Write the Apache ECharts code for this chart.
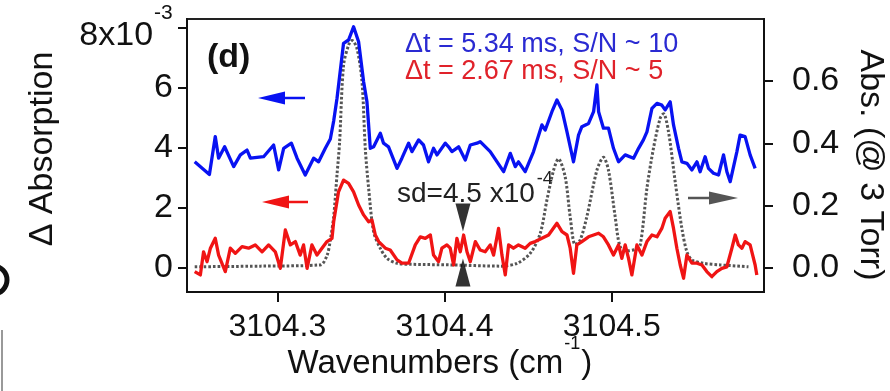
<!DOCTYPE html>
<html><head><meta charset="utf-8">
<script src="https://cdn.jsdelivr.net/npm/echarts@6/dist/echarts.min.js"></script>
<style>html,body{margin:0;padding:0;background:#fff}#c{width:890px;height:391px}</style>
</head><body><div id="c"></div>
<script>
// Δt = 5.34 ms trace (left axis, Δ absorption in units of 1e-3)
const blueWavenumber = [3104.2506,3104.2594,3104.2629,3104.2649,3104.2685,3104.2739,3104.2779,3104.2819,3104.2839,3104.2918,3104.2978,3104.3008,3104.3038,3104.3084,3104.3118,3104.3167,3104.3217,3104.3247,3104.3287,3104.3317,3104.3337,3104.3357,3104.3396,3104.3426,3104.3456,3104.3486,3104.3516,3104.3536,3104.3556,3104.3576,3104.3616,3104.3635,3104.3665,3104.3716,3104.3745,3104.3785,3104.3805,3104.3845,3104.3874,3104.3904,3104.3934,3104.3955,3104.4004,3104.4024,3104.4044,3104.4084,3104.4124,3104.4154,3104.4194,3104.4213,3104.4273,3104.4353,3104.4393,3104.4423,3104.4442,3104.4482,3104.4532,3104.4582,3104.4602,3104.4642,3104.4672,3104.4702,3104.4732,3104.4771,3104.4801,3104.4821,3104.4861,3104.4891,3104.4911,3104.4921,3104.4950,3104.4980,3104.5010,3104.5040,3104.5080,3104.5130,3104.5160,3104.5189,3104.5210,3104.5240,3104.5270,3104.5299,3104.5319,3104.5349,3104.5369,3104.5399,3104.5419,3104.5449,3104.5479,3104.5509,3104.5528,3104.5558,3104.5578,3104.5608,3104.5638,3104.5668,3104.5688,3104.5708,3104.5748,3104.5767,3104.5797,3104.5827,3104.5857];
const blueDeltaAbs = [3.54,3.12,4.38,3.66,4.04,3.38,3.77,3.93,3.66,3.71,4.10,3.27,3.99,4.16,3.66,3.10,3.66,3.54,3.99,4.30,4.90,5.66,7.49,7.60,8.04,7.54,6.21,5.54,3.99,4.04,4.49,4.16,4.04,3.32,3.66,4.16,3.88,4.27,4.10,3.54,3.99,3.77,4.16,4.04,3.88,4.04,3.60,4.10,4.16,4.21,3.88,3.21,3.82,3.38,3.54,3.21,3.88,4.77,4.60,5.21,5.60,5.27,4.54,3.54,4.43,4.71,4.82,5.21,6.10,5.21,4.66,4.66,3.99,3.54,3.77,3.66,3.99,4.27,4.54,5.32,5.49,5.43,5.27,5.54,4.77,3.99,3.54,3.49,3.27,3.54,3.21,3.71,3.32,3.16,3.10,3.77,3.21,2.88,3.88,4.43,4.38,3.77,3.32];

// Δt = 2.67 ms trace (left axis, units of 1e-3)
const redWavenumber = [3104.2506,3104.2540,3104.2559,3104.2580,3104.2600,3104.2629,3104.2649,3104.2689,3104.2719,3104.2749,3104.2789,3104.2828,3104.2868,3104.2909,3104.2948,3104.2988,3104.3018,3104.3048,3104.3078,3104.3108,3104.3137,3104.3157,3104.3178,3104.3207,3104.3237,3104.3267,3104.3297,3104.3327,3104.3337,3104.3366,3104.3396,3104.3426,3104.3456,3104.3486,3104.3516,3104.3546,3104.3566,3104.3586,3104.3606,3104.3626,3104.3646,3104.3675,3104.3716,3104.3745,3104.3785,3104.3825,3104.3855,3104.3885,3104.3915,3104.3934,3104.3964,3104.3984,3104.4014,3104.4034,3104.4054,3104.4074,3104.4094,3104.4114,3104.4134,3104.4154,3104.4184,3104.4213,3104.4243,3104.4273,3104.4293,3104.4323,3104.4343,3104.4363,3104.4383,3104.4412,3104.4442,3104.4482,3104.4512,3104.4542,3104.4582,3104.4622,3104.4672,3104.4702,3104.4732,3104.4751,3104.4771,3104.4791,3104.4821,3104.4861,3104.4891,3104.4921,3104.4950,3104.4980,3104.5010,3104.5040,3104.5060,3104.5080,3104.5100,3104.5120,3104.5150,3104.5180,3104.5210,3104.5240,3104.5270,3104.5299,3104.5319,3104.5349,3104.5369,3104.5389,3104.5409,3104.5429,3104.5449,3104.5479,3104.5509,3104.5539,3104.5568,3104.5598,3104.5628,3104.5658,3104.5688,3104.5718,3104.5738,3104.5757,3104.5778,3104.5797,3104.5827,3104.5857,3104.5867];
const redDeltaAbs = [-0.12,-0.23,0.54,0.21,0.66,0.99,0.43,-0.12,0.66,0.49,0.71,0.66,0.77,0.54,0.77,0.54,-0.01,1.27,0.77,0.88,0.43,0.77,-0.01,0.77,0.43,0.66,0.88,0.99,1.54,2.54,2.93,2.82,2.54,2.10,1.77,1.54,1.60,1.10,0.88,0.77,0.66,0.60,0.27,0.16,0.16,0.77,1.04,0.99,1.10,0.43,0.21,0.66,0.77,0.66,0.10,0.99,0.54,1.10,0.54,0.21,0.88,0.60,0.54,0.77,0.43,1.32,0.43,-0.23,0.77,0.66,0.77,0.66,0.82,0.88,0.99,1.10,1.49,1.21,1.10,0.66,-0.18,0.77,0.88,1.04,1.10,1.16,1.04,0.77,0.43,0.77,0.32,0.77,0.32,-0.23,0.77,0.43,0.88,1.10,1.04,1.32,1.66,1.88,1.32,0.66,0.10,-0.34,0.43,0.16,0.16,0.10,-0.12,-0.29,-0.12,-0.01,0.04,0.66,1.10,0.77,0.66,0.88,0.77,0.10,-0.23];

// Reference absorption spectrum @ 3 Torr (right axis)
const refWavenumber = [3104.2506,3104.2898,3104.3257,3104.3297,3104.3317,3104.3337,3104.3357,3104.3372,3104.3396,3104.3426,3104.3447,3104.3476,3104.3506,3104.3526,3104.3546,3104.3576,3104.3616,3104.3656,3104.3716,3104.3795,3104.4034,3104.4333,3104.4433,3104.4512,3104.4572,3104.4612,3104.4652,3104.4681,3104.4721,3104.4751,3104.4781,3104.4811,3104.4851,3104.4911,3104.4950,3104.4980,3104.5020,3104.5050,3104.5092,3104.5140,3104.5170,3104.5210,3104.5249,3104.5289,3104.5309,3104.5339,3104.5379,3104.5419,3104.5449,3104.5479,3104.5548,3104.5648,3104.5817];
const refAbs = [0.004,0.006,0.010,0.040,0.090,0.165,0.300,0.400,0.650,0.715,0.730,0.705,0.600,0.384,0.256,0.116,0.063,0.031,0.015,0.012,0.010,0.006,0.015,0.047,0.111,0.218,0.314,0.350,0.293,0.165,0.075,0.090,0.165,0.314,0.355,0.314,0.165,0.068,0.055,0.060,0.074,0.256,0.384,0.480,0.495,0.437,0.277,0.127,0.052,0.026,0.015,0.010,0.004];

// Ticks
const xTicks = [3104.3, 3104.4, 3104.5];
const leftTicks = [0, 2, 4, 6, 8];
const rightTicks = [0.0, 0.2, 0.4, 0.6];

// sd marker (baseline ± sd, units of 1e-3)
const sdWavenumber = 3104.411;
const sdCenter = 0.77;
const sdHalf = 0.45;

const zip = (xs, ys) => xs.map((x, i) => [x, ys[i]]);
const FONT = '"Liberation Sans", Arial, sans-serif';
const BLUE = '#0812f2', RED = '#f01414';
const tickStyle = {color: '#111', width: 2};

const chart = echarts.init(document.getElementById('c'), null, {renderer: 'canvas'});
chart.setOption({
  animation: false,
  backgroundColor: '#fff',
  textStyle: {fontFamily: FONT},
  grid: {left: 187, top: 19, width: 577, height: 273, show: true, borderColor: '#222', borderWidth: 2, backgroundColor: 'transparent', containLabel: false, outerBoundsMode: 'none'},
  xAxis: {
    type: 'value', min: 3104.246, max: 3104.591, position: 'bottom',
    axisLine: {show: true, onZero: false, lineStyle: tickStyle},
    splitLine: {show: false},
    axisTick: {show: true, inside: false, length: 10, customValues: xTicks, lineStyle: tickStyle},
    axisLabel: {customValues: xTicks, formatter: v => v.toFixed(1), fontSize: 32, color: '#111', margin: 19, fontFamily: FONT}
  },
  yAxis: [{
    type: 'value', min: -0.8, max: 8.3, position: 'left',
    axisLine: {show: true, onZero: false, lineStyle: tickStyle}, splitLine: {show: false},
    axisTick: {show: true, inside: false, length: 9, customValues: leftTicks, lineStyle: tickStyle},
    axisLabel: {
      customValues: leftTicks, fontSize: 34, color: '#111', margin: 14, fontFamily: FONT,
      formatter: v => v === 8 ? '{b|8x10}{s|-3}{h| }' : String(v),
      rich: {
        b: {fontSize: 34, lineHeight: 34, verticalAlign: 'bottom', color: '#111', fontFamily: FONT},
        s: {fontSize: 21, lineHeight: 32, verticalAlign: 'top', color: '#111', fontFamily: FONT, padding: [0, 0, 0, 1]},
        h: {fontSize: 1, lineHeight: 50, verticalAlign: 'middle'}
      }
    }
  }, {
    type: 'value', min: -0.077, max: 0.799, position: 'right',
    axisLine: {show: true, onZero: false, lineStyle: tickStyle}, splitLine: {show: false},
    axisTick: {show: true, inside: false, length: 9, customValues: rightTicks, lineStyle: tickStyle},
    axisLabel: {customValues: rightTicks, formatter: v => v.toFixed(1), fontSize: 34, color: '#111', margin: 28, fontFamily: FONT}
  }],
  series: [{
    type: 'line', name: 'ref', yAxisIndex: 1, z: 1, showSymbol: false, smooth: 0.3,
    data: zip(refWavenumber, refAbs),
    lineStyle: {color: '#555', width: 3, type: [2.6, 2]}
  }, {
    type: 'line', name: 'blue', yAxisIndex: 0, z: 2, showSymbol: false,
    data: zip(blueWavenumber, blueDeltaAbs),
    lineStyle: {color: BLUE, width: 3.3, join: 'round'}
  }, {
    type: 'line', name: 'red', yAxisIndex: 0, z: 3, showSymbol: false,
    data: zip(redWavenumber, redDeltaAbs),
    lineStyle: {color: RED, width: 3.3, join: 'round'}
  }, {
    type: 'scatter', name: 'sd', yAxisIndex: 0, z: 4,
    itemStyle: {color: '#000'},
    data: [
      {value: [sdWavenumber, sdCenter + sdHalf], symbol: 'triangle', symbolSize: [15, 28], symbolRotate: 180, symbolOffset: [0, -14]},
      {value: [sdWavenumber, sdCenter - sdHalf], symbol: 'triangle', symbolSize: [15, 28], symbolOffset: [0, 14]}
    ]
  }],
  graphic: [
    // axis titles
    {type: 'text', x: 43, y: 149, rotation: Math.PI / 2, z: 10,
     style: {text: 'Δ Absorption', font: '34px ' + FONT, fill: '#111', align: 'center', verticalAlign: 'middle'}},
    {type: 'text', x: 870, y: 165, rotation: -Math.PI / 2, z: 10,
     style: {text: 'Abs. (@ 3 Torr)', font: '34px ' + FONT, fill: '#111', align: 'center', verticalAlign: 'middle'}},
    {type: 'text', x: 440, y: 357.5, z: 10,
     style: {text: '{n|Wavenumbers (cm}{s|-1}{n|)}{h| }', align: 'center', verticalAlign: 'middle',
       rich: {n: {fontSize: 33, lineHeight: 34, verticalAlign: 'bottom', fontFamily: FONT, fill: '#111'},
              s: {fontSize: 18, lineHeight: 18, padding: [0, 1, 0, 1], verticalAlign: 'top', fontFamily: FONT, fill: '#111'},
              h: {fontSize: 1, lineHeight: 45, verticalAlign: 'middle'}}}},
    // panel label and legend texts
    {type: 'text', x: 207, y: 58, z: 10,
     style: {text: '(d)', font: 'bold 34px ' + FONT, fill: '#111', align: 'left', verticalAlign: 'middle'}},
    {type: 'text', x: 405, y: 45, z: 10,
     style: {text: 'Δt = 5.34 ms, S/N ~ 10', font: '27px ' + FONT, fill: '#2a2ad2', align: 'left', verticalAlign: 'middle'}},
    {type: 'text', x: 405, y: 72, z: 10,
     style: {text: 'Δt = 2.67 ms, S/N ~ 5', font: '27px ' + FONT, fill: '#e0222a', align: 'left', verticalAlign: 'middle'}},
    {type: 'text', x: 397, y: 189, z: 10,
     style: {text: '{a|sd=4.5 x10}{s|-4}{h| }', align: 'left', verticalAlign: 'middle',
       rich: {a: {fontSize: 28, lineHeight: 28, verticalAlign: 'bottom', fontFamily: FONT, fill: '#222'},
              s: {fontSize: 18, lineHeight: 18, padding: [0, 0, 0, 2], verticalAlign: 'top', fontFamily: FONT, fill: '#222'},
              h: {fontSize: 1, lineHeight: 38, verticalAlign: 'middle'}}}},
    // arrows
    {type: 'line', z: 10, shape: {x1: 281, y1: 98, x2: 305, y2: 98}, style: {stroke: BLUE, lineWidth: 2.5}},
    {type: 'polygon', z: 10, shape: {points: [[258, 98], [285, 91.5], [285, 104.5]]}, style: {fill: BLUE}},
    {type: 'line', z: 10, shape: {x1: 285, y1: 202, x2: 308, y2: 202}, style: {stroke: RED, lineWidth: 2.5}},
    {type: 'polygon', z: 10, shape: {points: [[262, 202], [289, 195.5], [289, 208.5]]}, style: {fill: RED}},
    {type: 'line', z: 10, shape: {x1: 688, y1: 198, x2: 712, y2: 198}, style: {stroke: '#555', lineWidth: 2.5}},
    {type: 'polygon', z: 10, shape: {points: [[738, 198], [709, 191.5], [709, 204.5]]}, style: {fill: '#555'}},
    // fragments of neighbouring panel at the left edge
    {type: 'circle', z: 10, shape: {cx: -7, cy: 280, r: 14}, style: {fill: 'none', stroke: '#111', lineWidth: 5}},
    {type: 'line', z: 10, shape: {x1: 2, y1: 330, x2: 2, y2: 391}, style: {stroke: '#999', lineWidth: 2}}
  ]
});
</script>
</body></html>
